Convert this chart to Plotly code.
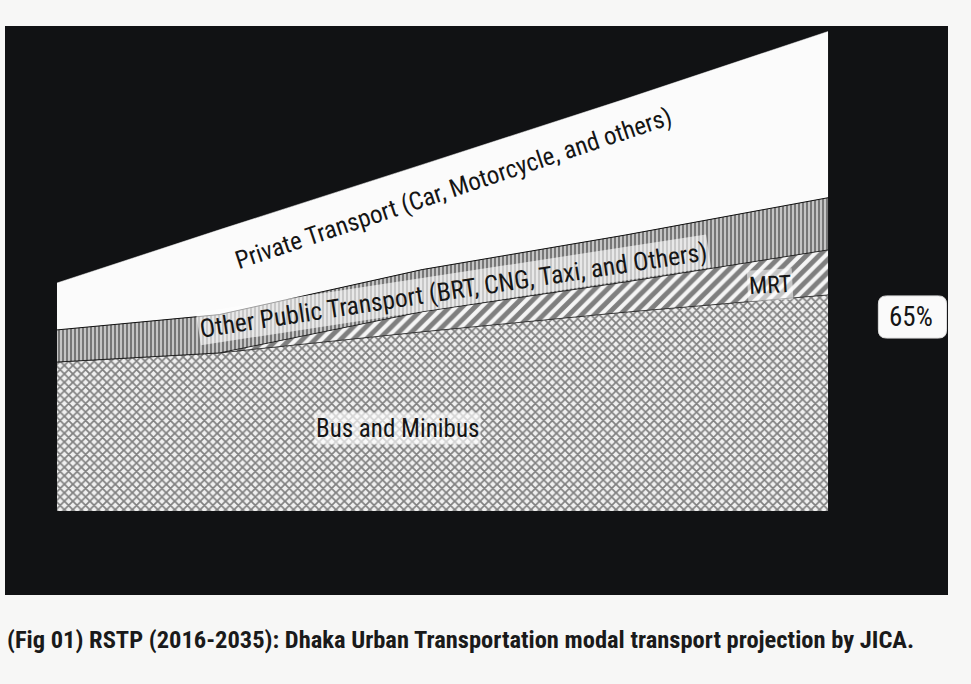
import plotly.graph_objects as go

# ---- data (index: total trips in 2035 = 100) ----
years = [2016, 2020, 2025, 2030, 2035]
bus_minibus = [31.1, 33.0, 37.4, 41.5, 45.1]
mrt = [0.0, 0.0, 4.2, 6.3, 9.4]
other_public = [6.7, 8.0, 8.8, 9.8, 10.9]
private = [9.8, 17.7, 21.9, 28.4, 34.7]

label_private = "Private Transport (Car, Motorcycle, and others)"
label_other = "Other Public Transport (BRT, CNG, Taxi, and Others)"
label_mrt = "MRT"
label_bus = "Bus and Minibus"
public_share = "65%"
caption = "(Fig 01) RSTP (2016-2035): Dhaka Urban Transportation modal transport projection by JICA."

W, H = 971, 684
FONT = "Liberation Sans Narrow, Arial Narrow, Roboto Condensed, Liberation Sans, Arial, sans-serif"

fig = go.Figure()

fig.add_trace(go.Scatter(
    x=years, y=bus_minibus, stackgroup="one", mode="lines", name=label_bus,
    line=dict(color="#222", width=0.8),
    fillcolor="#cfcfcf",
    fillpattern=dict(shape="x", fgcolor="#111", bgcolor="#f0f0f0", size=6, solidity=0.5),
))
fig.add_trace(go.Scatter(
    x=years, y=mrt, stackgroup="one", mode="lines", name=label_mrt,
    line=dict(color="#111", width=0.8),
    fillpattern=dict(shape="/", fgcolor="#0a0a0a", bgcolor="#f5f5f5", size=9, solidity=0.55),
))
fig.add_trace(go.Scatter(
    x=years, y=other_public, stackgroup="one", mode="lines", name=label_other,
    line=dict(color="#111", width=1),
    fillpattern=dict(shape="|", fgcolor="#151515", bgcolor="#d8d8d8", size=4, solidity=0.6),
))
fig.add_trace(go.Scatter(
    x=years, y=private, stackgroup="one", mode="lines", name=label_private,
    line=dict(color="#fbfbfb", width=0.5),
    fillcolor="#fbfbfb",
))

annos = [
    dict(x=2025.76, y=67.4, text=label_private, textangle=-18.5, font=dict(size=25)),
    dict(x=2025.76, y=46.1, text=label_other, textangle=-8.7, font=dict(size=25.5),
         bgcolor="rgba(255,255,255,0.6)"),
    dict(x=2033.57, y=47.2, text=label_mrt, textangle=-3, font=dict(size=24),
         bgcolor="rgba(255,255,255,0.55)"),
    dict(x=2024.4, y=17.3, text=label_bus, textangle=0, font=dict(size=25),
         bgcolor="rgba(255,255,255,0.65)"),
    dict(x=2037.05, y=40.5, text=public_share, textangle=0, font=dict(size=27)),
]
for a in annos:
    a.update(xref="x", yref="y", showarrow=False, xanchor="center", yanchor="middle")
    a["font"].update(family=FONT, color="#151515")
    fig.add_annotation(**a)

fig.add_annotation(
    xref="paper", yref="paper", x=0.0, y=-0.079, xanchor="left", yanchor="middle",
    text="<b>" + caption + "</b>", showarrow=False,
    font=dict(family=FONT, size=24.5, color="#1a1a1a"),
)

# rounded box behind the 65% label (data coordinates)
x0, x1, y0, y1, r = 2036.24, 2037.92, 36.1, 44.9, 0.2
ry = 1.7
path = (f"M {x0 + r},{y0} L {x1 - r},{y0} Q {x1},{y0} {x1},{y0 + ry} "
        f"L {x1},{y1 - ry} Q {x1},{y1} {x1 - r},{y1} L {x0 + r},{y1} "
        f"Q {x0},{y1} {x0},{y1 - ry} L {x0},{y0 + ry} Q {x0},{y0} {x0 + r},{y0} Z")
fig.add_shape(type="path", path=path, xref="x", yref="y",
              fillcolor="#fafafa", line=dict(color="#ddd", width=1), layer="below")

fig.update_layout(
    width=W, height=H,
    margin=dict(l=5, r=23, t=26, b=89),
    paper_bgcolor="#f7f7f6",
    plot_bgcolor="#111214",
    showlegend=False,
    hovermode=False,
    xaxis=dict(range=[2014.719, 2037.956], showgrid=False, zeroline=False,
               showticklabels=False, ticks="", fixedrange=True),
    yaxis=dict(range=[-17.54, 101.25], showgrid=False, zeroline=False,
               showticklabels=False, ticks="", fixedrange=True),
)

fig.write_html("out.html", config={"displayModeBar": False},
               post_script="document.body.style.margin='0px';document.body.style.background='#f7f7f6';")
